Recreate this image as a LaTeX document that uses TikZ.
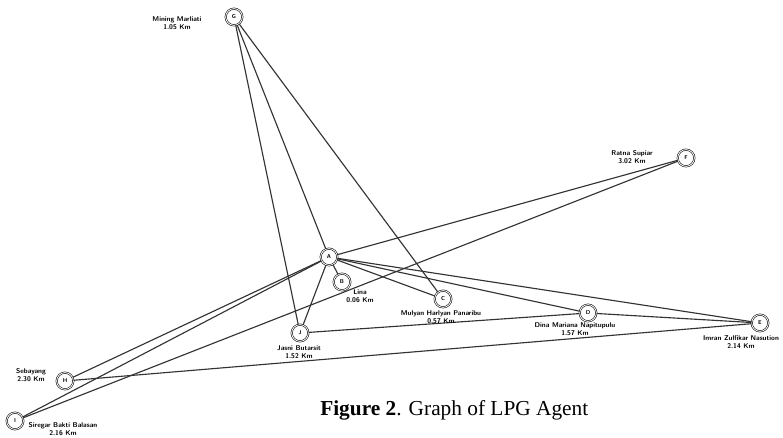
\documentclass[tikz,border=0pt]{standalone}
\usepackage{fontspec}
\setmainfont{Liberation Serif}
\usepackage{tikz}

\tikzset{
  agent/.style={draw, circle, double, double distance=0.7pt, minimum size=12.5pt, inner sep=0pt,
    font=\fontsize{4.2}{4.2}\selectfont\sffamily\bfseries},
  lbl/.style={align=center, inner sep=0.75pt, font=\fontsize{5.2}{6}\selectfont\sffamily\bfseries},
  road/.style={draw=black!80, line width=0.85pt}
}

\begin{document}
\begin{tikzpicture}[x=0.75pt,y=0.75pt,yscale=-1,xscale=1]
\useasboundingbox (0,0) rectangle (783,438);

% Agents
\node[agent] (A) at (329,257) {A};
\node[agent] (B) at (342,282) {B};
\node[agent] (C) at (443,299) {C};
\node[agent] (D) at (588,313) {D};
\node[agent] (E) at (760,323) {E};
\node[agent] (F) at (686,158) {F};
\node[agent] (G) at (234,17) {G};
\node[agent] (H) at (65,381) {H};
\node[agent] (I) at (15,421) {I};
\node[agent] (J) at (300,333) {J};

% Roads
\draw[road] (G) -- (J);
\draw[road] (G) -- (A);
\draw[road] (G) -- (C);
\draw[road] (A) -- (B);
\draw[road] (A) -- (C);
\draw[road] (A) -- (D);
\draw[road] (A) -- (E);
\draw[road] (A) -- (F);
\draw[road] (A) -- (J);
\draw[road] (A) -- (H);
\draw[road] (A) -- (I);
\draw[road] (J) -- (D);
\draw[road] (D) -- (E);
\draw[road] (H) -- (E);
\draw[road] (I) -- (F);

% Text Node
\node[lbl] (lG) at (177,23) {Mining Marliati\\1.05 Km};
% Text Node
\node[lbl] (lF) at (632,157) {Ratna Supiar\\3.02 Km};
% Text Node
\node[lbl] (lB) at (360,296) {Lina\\0.06 Km};
% Text Node
\node[lbl] (lC) at (441,317) {Mulyan Harlyan Panaribu\\0.57 Km};
% Text Node
\node[lbl] (lD) at (575,329) {Dina Mariana Napitupulu\\1.57 Km};
% Text Node
\node[lbl] (lE) at (741,342) {Imran Zulfikar Nasution\\2.14 Km};
% Text Node
\node[lbl] (lJ) at (299,352) {Jasni Butarsit\\1.52 Km};
% Text Node
\node[lbl] (lH) at (31,375) {Sebayang\\2.30 Km};
% Text Node
\node[lbl] (lI) at (63,429) {Siregar Bakti Balasan\\2.16 Km};

% Caption
\node[anchor=west, inner sep=0pt, font=\fontsize{16}{18}\selectfont] (cap) at (320,410) {\textbf{Figure 2}. Graph of LPG Agent};

\end{tikzpicture}
\end{document}
